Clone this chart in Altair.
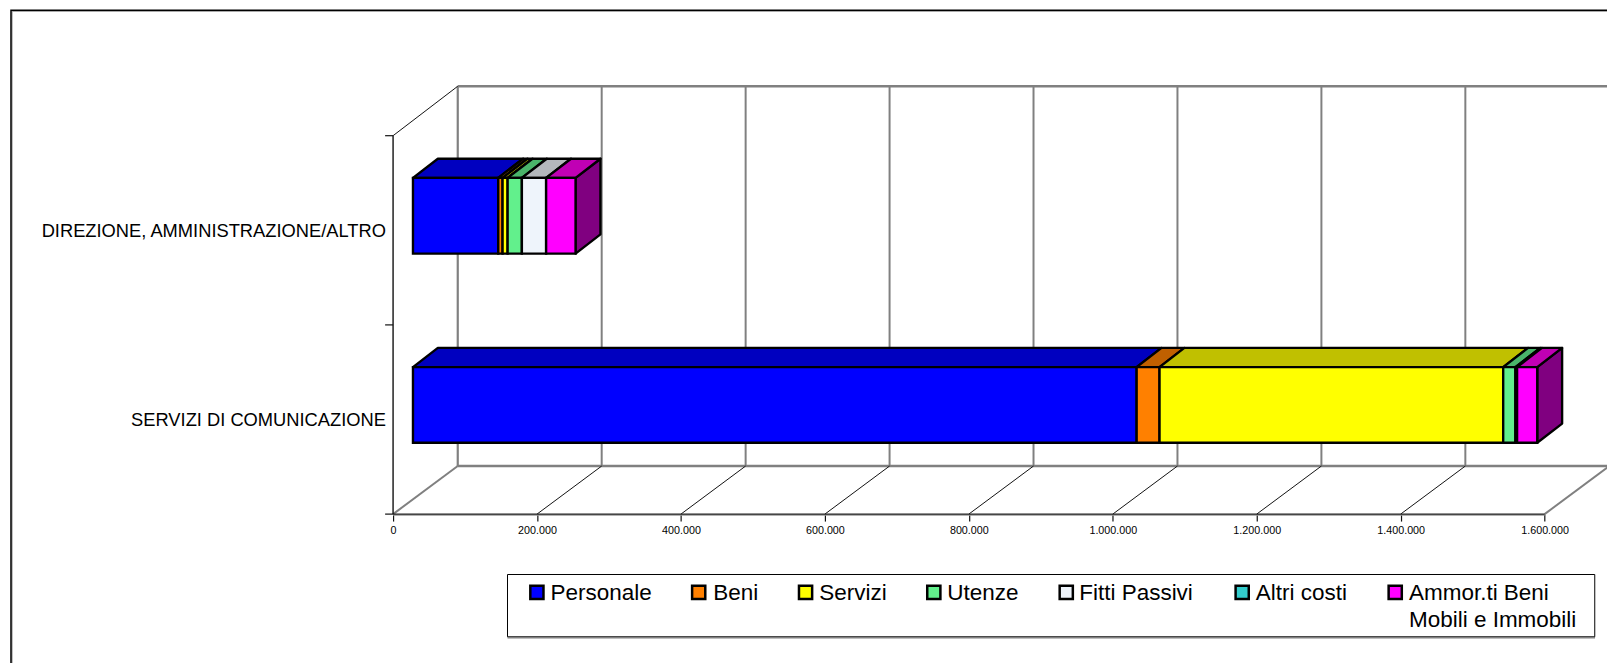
import altair as alt
import pandas as pd

CATEGORIES = ["SERVIZI DI COMUNICAZIONE", "DIREZIONE, AMMINISTRAZIONE/ALTRO"]
SERIES = ["Personale", "Beni", "Servizi", "Utenze", "Fitti Passivi", "Altri costi", "Ammor.ti Beni"]
SERVIZI_VALUES = [1005500, 31800, 477500, 17000, 0, 2300, 28000]
DIREZIONE_VALUES = [118500, 6000, 7000, 19800, 33700, 0, 40900]
FRONT_COLORS = ["#0000ff", "#ff8000", "#ffff00", "#62f08c", "#eef4fb", "#33cccc", "#ff00ff"]
TOP_COLORS = ["#0000c0", "#c06000", "#c0c000", "#4ab46a", "#b4b8bc", "#269999", "#c000b4"]
SIDE_COLOR = "#800080"
X_TICKS = [0, 200000, 400000, 600000, 800000, 1000000, 1200000, 1400000, 1600000]
LEGEND_SECOND_LINE = "Mobili e Immobili"

# Layout constants (pixels, relative to the plot origin)
LEGEND_SYMBOL_LEFT = [136.7, 299.3, 406.7, 535.6, 668.7, 845.5, 999.3]
LEGEND_TEXT_LEFT = [158.3, 321.7, 428.3, 557, 689.6, 867, 1021]
LEGEND_SYMBOL_Y, LEGEND_BASE1, LEGEND_BASE2 = 508.7, 516.7, 543.3

PX_X = 1157.3 / 1600000   # pixels per unit
PX_Y = 190.15             # pixels per category band
W, H = 1220, 430
X_MAX = W / PX_X
Y_MAX = H / PX_Y
WALL_DX, WALL_DY = 65 / PX_X, 48.3 / PX_Y
BAR_X0 = 20 / PX_X
BAR_DX, BAR_DY = 25 / PX_X, 19.3 / PX_Y
BAR_LOW, BAR_HIGH = 0.377, 0.777
BAR_STROKE = 2.4

x_scale = alt.Scale(domain=[0, X_MAX], nice=False, zero=False)
y_scale = alt.Scale(domain=[0, Y_MAX], nice=False, zero=False)
label_expr = "datum.value < 1 ? '%s' : '%s'" % (CATEGORIES[0], CATEGORIES[1])
X_AXIS = alt.Axis(
    values=X_TICKS, grid=False, domain=False, tickSize=7, tickColor="#111111", tickWidth=1.2,
    labelFont="Liberation Sans", labelFontSize=10.8, labelColor="#000000", labelPadding=3,
    labelFlush=False, labelOverlap=False,
    labelExpr="replace(format(datum.value, ','), regexp(',', 'g'), '.')")
Y_AXIS = alt.Axis(
    values=[0.5, 1.5], grid=False, domain=False, ticks=False,
    labelFont="Liberation Sans", labelFontSize=18.4, labelColor="#000000", labelPadding=7.7,
    labelLimit=400, labelExpr=label_expr)
X = lambda f="x": alt.X(f"{f}:Q", scale=x_scale, axis=X_AXIS, title=None)
Y = lambda f="y": alt.Y(f"{f}:Q", scale=y_scale, axis=Y_AXIS, title=None)

# Faces of the bars
front, top, side = [], [], []
for c, values in enumerate([SERVIZI_VALUES, DIREZIONE_VALUES]):
    start = BAR_X0
    low, high = c + BAR_LOW, c + BAR_HIGH
    for s, v in zip(SERIES, values):
        if v == 0:
            continue
        end = start + v
        front.append({"series": s, "x": start, "x2": end, "y": low, "y2": high})
        i = SERIES.index(s)
        key = f"{c}-{i}"
        top.append({"k": key, "fill": TOP_COLORS[i], "y": high, "x": start, "x2": end, "o": i})
        top.append({"k": key, "fill": TOP_COLORS[i], "y": high + BAR_DY, "x": start + BAR_DX,
                    "x2": end + BAR_DX, "o": i})
        start = end
    side.append({"k": c, "x": start, "y": low, "y2": high})
    side.append({"k": c, "x": start + BAR_DX, "y": low + BAR_DY, "y2": high + BAR_DY})

# Walls and floor
grid = pd.DataFrame({"x": [t + WALL_DX for t in X_TICKS[1:-1]], "y": WALL_DY, "y2": Y_MAX})
back_left = pd.DataFrame({"x": [WALL_DX], "y": [WALL_DY], "y2": [Y_MAX]})
hlines = pd.DataFrame({"x": [WALL_DX, WALL_DX], "x2": [X_TICKS[-1] + WALL_DX] * 2, "y": [WALL_DY, Y_MAX]})

diag = []
for n, t in enumerate(X_TICKS):
    edge = t in (X_TICKS[0], X_TICKS[-1])
    diag.append({"k": n, "x": t, "y": 0, "edge": edge})
    diag.append({"k": n, "x": t + WALL_DX, "y": WALL_DY, "edge": edge})
diag.append({"k": 99, "x": 0, "y": 2, "edge": False})
diag.append({"k": 99, "x": WALL_DX, "y": Y_MAX, "edge": False})
diag = pd.DataFrame(diag)

GREY = "#808080"
layers = []

# pixel-based frame (outer border, grey shadow then black)
one = pd.DataFrame({"a": [0]})
layers.append(alt.Chart(one).mark_rect(fill="transparent", stroke="#aaaaaa", strokeWidth=1.5).encode(
    x=alt.value(-383), x2=alt.value(1400), y=alt.value(-75.3), y2=alt.value(800)))
layers.append(alt.Chart(one).mark_rect(fill="transparent", stroke="#000000", strokeWidth=1.5).encode(
    x=alt.value(-384), x2=alt.value(1400), y=alt.value(-76.3), y2=alt.value(800)))

# Legend frame
layers.append(alt.Chart(one).mark_rect(fill="#ffffff", stroke="#000000", strokeWidth=1).encode(
    x=alt.value(115), x2=alt.value(1207.7), y=alt.value(490.7), y2=alt.value(553.3)))
layers.append(alt.Chart(one).mark_rule(color=GREY, strokeWidth=1.5).encode(
    x=alt.value(115), x2=alt.value(1208), y=alt.value(554.2)))

layers.append(alt.Chart(grid).mark_rule(color=GREY, strokeWidth=2).encode(x=X(), y=Y(), y2="y2:Q"))
layers.append(alt.Chart(back_left).mark_rule(color=GREY, strokeWidth=2.2).encode(x=X(), y=Y(), y2="y2:Q"))
layers.append(alt.Chart(hlines).mark_rule(color=GREY, strokeWidth=2.4).encode(x=X(), x2="x2:Q", y=Y()))
layers.append(alt.Chart(diag[~diag.edge]).mark_line(color="#111111", strokeWidth=1).encode(
    x=X(), y=Y(), detail="k:N"))
layers.append(alt.Chart(diag[diag.edge]).mark_line(color=GREY, strokeWidth=2).encode(
    x=X(), y=Y(), detail="k:N"))

# Front axis lines
layers.append(alt.Chart(pd.DataFrame({"x": [0], "x2": [X_TICKS[-1]], "y": [0]})).mark_rule(
    color="#999999", strokeWidth=1.5, yOffset=1).encode(x=X(), x2="x2:Q", y=Y()))
layers.append(alt.Chart(pd.DataFrame({"x": [0], "x2": [X_TICKS[-1]], "y": [0]})).mark_rule(
    color="#222222", strokeWidth=1.2).encode(x=X(), x2="x2:Q", y=Y()))
layers.append(alt.Chart(pd.DataFrame({"x": [0], "y": [0], "y2": [2]})).mark_rule(
    color="#111111", strokeWidth=1.4).encode(x=X(), y=Y(), y2="y2:Q"))
layers.append(alt.Chart(pd.DataFrame({"y": [0, 1, 2]})).mark_rule(color="#111111", strokeWidth=1.2).encode(
    x=alt.value(-8), x2=alt.value(0), y=Y()))

# Bars
layers.append(alt.Chart(pd.DataFrame(side)).mark_area(
    orient="vertical", color=SIDE_COLOR, stroke="#000000", strokeWidth=BAR_STROKE, strokeJoin="round").encode(
    x=X(), y=Y(), y2="y2:Q", detail="k:N"))
layers.append(alt.Chart(pd.DataFrame(top)).mark_area(
    orient="horizontal", stroke="#000000", strokeWidth=BAR_STROKE, strokeJoin="round").encode(
    y=Y(), x=X(), x2="x2:Q", detail="k:N", fill=alt.Fill("fill:N", scale=None), order="o:Q"))
layers.append(alt.Chart(pd.DataFrame(front)).mark_rect(stroke="#000000", strokeWidth=BAR_STROKE).encode(
    x=X(), x2="x2:Q", y=Y(), y2="y2:Q",
    color=alt.Color("series:N", scale=alt.Scale(domain=SERIES, range=FRONT_COLORS), legend=None)))

# Legend entries, placed one by one because the columns are unevenly spaced
text_style = dict(font="Liberation Sans", fontSize=22.6, align="left", baseline="alphabetic", color="#000000")
for name, colour, sym_left, text_left in zip(SERIES, FRONT_COLORS, LEGEND_SYMBOL_LEFT, LEGEND_TEXT_LEFT):
    layers.append(alt.Chart(one).mark_square(size=175, opacity=1, fill=colour, stroke="#000000", strokeWidth=2.5).encode(
        x=alt.value(sym_left + 7.85), y=alt.value(LEGEND_SYMBOL_Y)))
    layers.append(alt.Chart(pd.DataFrame({"t": [name]})).mark_text(**text_style).encode(
        x=alt.value(text_left), y=alt.value(LEGEND_BASE1), text="t:N"))
layers.append(alt.Chart(pd.DataFrame({"t": [LEGEND_SECOND_LINE]})).mark_text(**text_style).encode(
    x=alt.value(LEGEND_TEXT_LEFT[-1]), y=alt.value(LEGEND_BASE2), text="t:N"))

chart = alt.layer(*layers).properties(
    width=W, height=H,
    padding={"left": 387, "top": 77, "right": 0, "bottom": 148},
    autosize=alt.AutoSizeParams(type="none"),
    background="#ffffff",
).configure_view(stroke=None)

chart.save("out.html", embed_options={"renderer": "svg", "actions": False})
